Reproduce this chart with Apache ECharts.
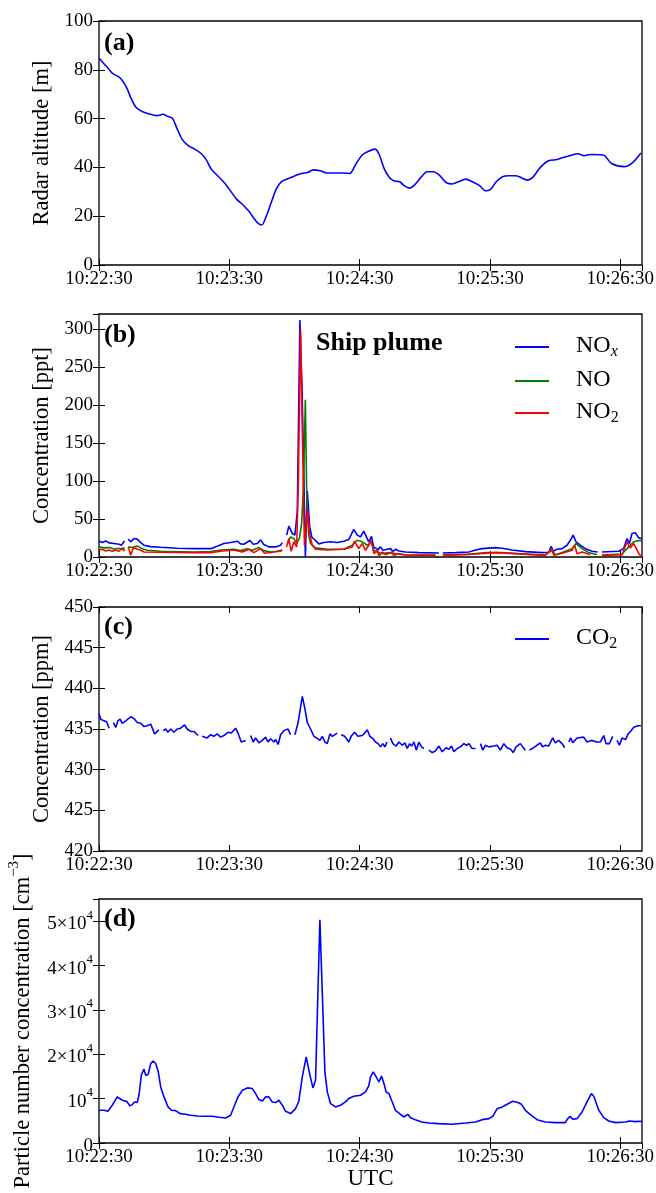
<!DOCTYPE html>
<html><head><meta charset="utf-8">
<script src="https://cdn.jsdelivr.net/npm/echarts@6/dist/echarts.min.js"></script>
<style>html,body{margin:0;padding:0;background:#fff}#c{width:656px;height:1193px}</style>
</head><body><div id="c"></div>
<script>
// ---- data: [seconds after 10:22:30, value] ----
const timeTicks = ['10:22:30','10:23:30','10:24:30','10:25:30','10:26:30'];
const pncTickMant = ['0','10','2×10','3×10','4×10','5×10'];

const altitude = [[0,84.8],[4.4,80.4],[6.4,78.4],[9.3,77],[11.2,75],[13.1,72],[14.5,68.8],[17,64.7],[19.9,62.9],[22.8,62],[26.6,61.2],[29.5,61.8],[31.4,61],[33.8,60.1],[35.7,56.4],[38.2,51.6],[41.1,48.9],[44,47.5],[46.9,45.8],[49.2,43.4],[51.7,39.3],[54.6,36.6],[56.9,34.5],[59.4,31.8],[63.3,27],[66.2,24.7],[69.1,21.9],[71,19.5],[72.9,17.4],[74.9,16.4],[76.8,19.5],[79.3,25.6],[81.6,31.1],[83.9,34.1],[87.4,35.5],[90.3,36.6],[93.2,37.5],[96.1,37.9],[98.6,39],[101.9,38.6],[104.8,37.7],[108.6,37.7],[112.5,37.7],[115.4,37.5],[118.3,41.4],[121.2,45.1],[124.1,46.6],[127,47.5],[128.9,45.5],[131.4,39.3],[133.7,35.9],[136,34.4],[138.5,34.1],[140.5,32.5],[143,31.5],[145.7,33.2],[148.2,35.9],[151.1,38.2],[154,38.2],[156.9,36.6],[159.8,33.8],[162.6,33.2],[165.5,34.1],[168.8,35.2],[171.9,34.1],[175.2,32.5],[178.1,30.4],[180.4,31.1],[182.9,34.1],[185.8,36.2],[188.7,36.6],[192,36.6],[195.1,35.5],[197.4,34.8],[199.7,35.9],[203.2,40],[207,42.7],[210.9,43.2],[213.8,44.1],[216.7,44.8],[220.5,45.6],[223.4,44.8],[226.3,45.3],[232.1,45.1],[236,41.6],[241.8,40.3],[245.7,42],[249.5,45.9]];

const nox = [[0,21],[1.5,19],[3.1,21],[4.6,18.6],[6.9,17.7],[9.2,16.8],[10.3,15.5],[11.8,21],[12.5,null],[13.5,23.5],[14.6,20],[16.1,24.3],[17.6,23.5],[19.2,19],[20.7,15.5],[23.8,13.7],[28.4,12.8],[36,11.5],[43.7,11],[51.4,11],[54.4,14.2],[57.5,17.7],[60.6,19],[63.6,20.8],[65.2,17.3],[66.7,16.8],[69.5,21.7],[71,16.8],[72.9,17.7],[74.4,22.6],[75.9,16.4],[78.2,13.3],[81.3,13.3],[83.6,15.5],[84.4,19],[85.4,null],[86.4,28.8],[87.4,40.7],[89,31],[90.2,28.8],[91.3,60],[92.5,312],[93.5,220],[94.3,110],[95,0],[95.9,87],[97,40],[98,26],[99,23.5],[101.2,17.3],[103.5,19],[106.6,20],[109.6,19],[112.7,20.8],[115,23],[117.3,36.3],[118.9,28.8],[120.4,26.5],[121.9,34],[123.5,24.3],[124.2,20],[125.5,27],[126.4,13.3],[127.3,15.5],[128.5,9.7],[129.6,13.3],[130.7,8.8],[132.7,10.2],[134.2,11],[135.3,7.5],[136.5,10.2],[138.1,8],[141.1,6.6],[147.3,5.8],[156.5,5.3],[157.5,null],[158.3,5.3],[164.2,5.8],[170.3,6.6],[173.4,9.3],[176.4,11],[182.6,12.4],[185.6,11.5],[190.2,9.3],[196.4,7.1],[204,5.8],[207.1,6.2],[208.2,14.2],[209.1,7.5],[210.9,10.2],[213.2,11],[215.5,15.5],[217,22],[218.3,28.8],[219.6,20],[221.6,15.5],[223.9,11],[227,7.5],[229.6,6.6],[230.5,null],[231.6,6.6],[239.2,7.5],[241.5,11],[243.1,24.3],[244.2,17.7],[245.4,31],[246.9,31.9],[248.5,25.2],[250,24]];

const no = [[0,13.3],[2.3,12],[4.6,12.4],[6.9,10.6],[9.2,11.5],[10.7,9.7],[11.8,12.4],[12.5,null],[13.5,13.3],[15.3,12.4],[17.6,14.6],[19.9,11],[22.2,8.8],[28.4,7.5],[43.7,6.6],[51.4,7.1],[56,9.3],[62.1,10.2],[65.2,8.4],[68.2,11],[70.6,8.8],[73.6,12.4],[75.9,8.4],[79,6.6],[83.6,7.5],[84.4,9],[85.4,null],[86.7,17.7],[88.2,26.5],[89.7,24.3],[91,17.7],[92.3,25],[93.3,45],[94.1,90],[95,207],[95.7,70],[96.5,30],[97.4,17.7],[99.7,12],[105.1,10.2],[112.7,10.2],[116.6,15.5],[118.9,22],[121.2,20],[123.5,15.5],[125.3,20],[126.6,8.8],[128.1,6.6],[130.4,4.4],[133.4,5.8],[136.5,4.4],[141.1,3],[154.9,2.7],[157.5,null],[158.3,2.7],[170.3,3.5],[178,5.8],[185.6,5.8],[193.3,4.4],[205.5,2.7],[208.6,8.8],[210.1,3],[213.2,5.8],[217.8,11],[219.6,17.7],[222.4,11],[225.5,5.8],[229.3,3],[230.5,null],[231.6,2.7],[240.8,4],[243.9,13.3],[246.2,20],[248.5,21.7],[250,21]];

const no2 = [[0,8.8],[1.5,10.2],[3.1,8],[4.6,9.3],[6.1,7.5],[7.7,9.3],[9.2,7.5],[10.7,12],[11.8,7.5],[12.5,null],[13.5,13.3],[14.6,2.2],[15.8,12],[17.3,11],[19.2,8.8],[20.7,6.6],[28.4,6.2],[43.7,5.8],[51.4,5.8],[56,7.5],[62.1,9.3],[65.9,6.6],[69,10.2],[71.3,5.8],[74.4,11],[76.2,4.9],[80.5,6.6],[84.4,9.3],[85.4,null],[86.4,13.3],[87.4,24.3],[88.5,7.5],[89.7,20],[91,13.3],[91.8,100],[92.8,300],[93.6,165],[94.6,15],[96,62],[97,30],[98.2,15.5],[99.7,10.2],[105.1,9.3],[112.7,10.2],[116.6,13.3],[117.6,20.8],[119.6,11],[121.2,17.7],[122.7,8.8],[124.2,15.5],[125.3,22],[126.6,4.4],[128.1,8.8],[128.9,1.3],[130.4,6.6],[131.9,3],[134.9,6.6],[135.7,1.3],[137.3,4.4],[141.1,2.7],[154.9,2.2],[157.5,null],[158.3,2.2],[173.4,4],[182.6,5.8],[193.3,4],[205.5,2.2],[208.3,10.2],[209.4,2.2],[213.2,4.9],[217.8,8.8],[219,15.5],[220.1,4.4],[222.4,6.6],[226.3,3],[230.5,null],[231.6,2.2],[240.8,3],[243.1,20],[244.6,12],[246.2,17.7],[248.8,3],[250,2]];

const co2 = [[0,436.9],[0.8,436.2],[2.3,436.0],[3.5,435.9],[4.7,435.1],[5.6,null],[6.6,435.8],[7.7,435.2],[8.7,436.0],[9.7,436.2],[10.7,435.7],[12.3,436.0],[14.6,436.5],[16.1,436.3],[17.6,435.8],[19.2,435.7],[20.7,435.3],[22.2,435.4],[23.8,435.6],[25.6,434.4],[27.6,434.9],[28.6,null],[29.6,434.8],[30.7,435.0],[31.7,434.6],[33,435.0],[34.5,434.6],[36,435.0],[37.6,435.1],[39.4,435.5],[40.6,435.0],[42.2,434.7],[43.7,434.7],[45.6,434.2],[46.5,null],[47.5,434.1],[49.8,433.9],[51.4,434.3],[52.9,434.1],[54.4,434.4],[56,434.0],[57.5,434.2],[59.4,434.6],[60.9,434.5],[62.9,435.1],[64,434.5],[65.5,433.4],[67.5,433.6],[68.7,null],[69.8,434.2],[71,433.4],[72.1,433.9],[73.6,433.3],[75.2,433.6],[76.7,434.0],[77.8,433.4],[79,433.8],[80.5,433.4],[81.3,433.7],[82.5,433.1],[83.6,434.3],[85.1,434.8],[87,435.0],[88.2,434.3],[89.2,null],[90.2,434.3],[91.6,435.7],[93.6,439.0],[94.8,437.5],[95.9,435.8],[97.4,435.0],[99,434.1],[100.2,433.9],[101.7,433.6],[102.8,434.1],[104,433.4],[105.1,433.2],[106.3,434.4],[107.4,434.1],[109.7,434.5],[110.6,null],[111.5,434.3],[113.1,434.1],[115,433.4],[116.1,434.1],[117.7,434.6],[119.2,434.1],[121.2,434.2],[122.3,434.5],[123.5,434.9],[124.7,434.1],[126.2,433.8],[127.3,433.4],[128.5,433.2],[129.6,432.8],[130.7,433.2],[131.6,432.8],[132.6,433.4],[133.4,null],[134.2,433.9],[135.3,433.2],[136.8,432.9],[138.1,433.4],[139.6,433.0],[140.8,433.3],[141.9,432.6],[143,433.2],[143.9,432.9],[145,433.4],[146.1,432.4],[147.3,433.4],[148.5,432.8],[149.6,432.6],[150.7,null],[151.9,432.4],[153.4,432.1],[154.9,432.3],[156.5,432.9],[158,432.2],[159.8,432.7],[161.1,432.5],[162.3,432.9],[163.4,432.2],[164.9,432.6],[166.4,432.8],[168,433.2],[169.2,433.0],[170.3,433.2],[171.8,432.6],[173.4,432.6],[174.5,null],[175.6,433.2],[176.7,432.4],[177.9,433.0],[179.5,432.8],[181.8,432.9],[183.3,433.0],[184.8,432.4],[186.4,433.2],[187.9,432.7],[189.5,432.5],[190.7,432.1],[192,432.8],[194,433.2],[195.1,432.8],[196.3,432.4],[197.2,null],[198.1,432.4],[200.1,432.7],[201.6,433.0],[203.2,433.3],[204.2,432.8],[205.5,433.0],[207,432.9],[208.9,433.9],[210.1,433.3],[211.6,433.6],[213.2,433.2],[214.4,432.7],[215.3,null],[216.3,433.4],[217.2,433.9],[218.1,433.3],[220.1,433.9],[223.2,434.0],[224.7,433.4],[226.7,433.6],[229.3,433.4],[230.8,433.4],[232.4,434.2],[233.4,433.2],[235,433.2],[236.5,434.1],[237.5,null],[238.5,433.6],[239.6,433.0],[240.8,433.9],[242.4,433.7],[243.6,434.4],[244.7,434.7],[246.2,435.2],[248.2,435.4],[249.5,435.4]];

const pnc = [[0,7380],[2.3,7380],[4.1,7150],[6.1,8510],[8.4,10390],[10,9860],[11.5,9490],[12.7,9410],[14.3,8360],[15.3,8660],[16.4,9260],[17.6,9110],[18.4,10770],[19.5,15290],[20.7,16640],[21.5,15290],[22.6,15440],[23.8,17920],[24.9,18450],[26.1,17920],[27.3,16040],[28.4,12650],[29.9,10390],[31.8,8130],[33.3,7380],[35.3,7300],[37.3,6630],[39.9,6480],[42.2,6250],[45.3,6100],[48.3,6020],[52.2,6020],[55.2,5800],[58.3,5650],[60.6,6250],[62.1,8130],[64,10390],[66,11900],[68.3,12420],[70.6,12270],[72.1,11140],[73.6,9790],[75.2,9490],[76.7,10390],[78.2,10390],[79.8,9260],[81.3,9110],[82.8,9640],[84.4,8510],[85.9,7150],[88.2,6630],[90.5,7760],[92,9410],[93.6,14910],[95.4,19430],[97.1,15290],[98.5,12420],[99.7,14160],[101.7,50300],[104,16040],[105.1,11520],[106.6,8890],[108.9,8130],[111.2,8510],[113.5,9260],[115,10020],[117.3,10540],[120.4,10770],[122.7,11520],[124.2,12880],[125,14890],[126.3,16020],[127.6,14890],[128.9,13760],[130.1,15110],[131.2,13380],[132.2,11500],[133.5,11130],[135,9250],[136.5,7370],[138.4,6620],[140.4,5860],[142.2,6470],[143.4,5710],[145.7,5260],[148.5,4740],[151.9,4510],[156.4,4360],[162.6,4210],[168.8,4510],[173.4,4740],[176.4,5260],[179.6,5490],[181.3,6020],[183.3,7740],[185.6,8120],[187.9,8720],[190.5,9400],[192.5,9170],[194.5,8720],[196.3,7370],[198.6,6390],[201.7,5260],[205.5,4740],[210.1,4590],[214.7,4590],[215.8,5490],[217,6020],[218.1,5340],[220.1,5490],[222.4,6990],[224.7,9250],[226.7,11130],[227.8,10530],[230.1,7370],[232.4,5710],[234.7,4960],[237.8,4590],[242.4,4740],[244.2,4960],[247,4810],[248.5,4890],[250,4850]];

// ---- chart ----
const F = 'Liberation Serif';
const BLK = '#000';
const gridDefs = [
  {top:21, height:244},
  {top:314, height:243},
  {top:607, height:244},
  {top:899, height:244}
];
const yDefs = [
  {min:0, max:100, interval:20, name:'Radar altitude [m]', showMax:true},
  {min:0, max:320, interval:50, name:'Concentration [ppt]', showMax:false},
  {min:420, max:450, interval:5, name:'Concentration [ppm]', showMax:true},
  {min:0, max:55000, interval:10000, name:'{m|Particle number concentration [cm}{s|−3}{m|]}', showMax:false}
];
const tick = {show:true, inside:true, length:6, lineStyle:{color:BLK, width:1}};
const fmtTime = v => { const i = Math.round(v/60); return (Math.abs(v - i*60) < 0.01 && timeTicks[i]) ? timeTicks[i] : ''; };
const fmtPnc = v => { const i = Math.round(v/10000); return i === 0 ? '{m|0}' : '{m|' + pncTickMant[i] + '}{s|4}'; };

const grid = gridDefs.map(g => ({left:99, width:543, top:g.top, height:g.height, show:true, borderColor:BLK, borderWidth:1.3,
  backgroundColor:'transparent', containLabel:false, outerBoundsMode:'none'}));
const xAxis = [], yAxis = [];
for (let i = 0; i < 4; i++) {
  xAxis.push({type:'value', gridIndex:i, position:'bottom', min:0, max:250, interval:60,
    axisLine:{show:false}, axisTick:tick, splitLine:{show:false},
    axisLabel:{formatter:fmtTime, fontFamily:F, fontSize:19, color:BLK, margin:5, showMaxLabel:false},
    name: i === 3 ? 'UTC' : '', nameLocation:'middle', nameGap:20,
    nameTextStyle:{fontFamily:F, fontSize:23, color:BLK}});
}
for (let i = 0; i < 4; i++) {
  xAxis.push({type:'value', gridIndex:i, position:'top', min:0, max:250, interval:60,
    axisLine:{show:false}, axisTick:tick, splitLine:{show:false}, axisLabel:{show:false}});
}
for (let i = 0; i < 4; i++) {
  const d = yDefs[i];
  const lab = {fontFamily:F, fontSize:19, color:BLK, margin:6, showMaxLabel:d.showMax};
  if (i === 3) {
    lab.formatter = fmtPnc;
    lab.rich = {m:{fontFamily:F, fontSize:19, color:BLK, verticalAlign:'bottom', lineHeight:25},
                s:{fontFamily:F, fontSize:13, color:BLK, verticalAlign:'top'}};
  }
  const nts = {fontFamily:F, fontSize:22.5, color:BLK};
  if (i === 3) {
    nts.rich = {m:{fontFamily:F, fontSize:22.5, color:BLK, verticalAlign:'bottom', lineHeight:28},
                s:{fontFamily:F, fontSize:15, color:BLK, verticalAlign:'top'}};
  }
  yAxis.push({type:'value', gridIndex:i, position:'left', min:d.min, max:d.max, interval:d.interval,
    axisLine:{show:false}, axisTick:tick, splitLine:{show:false}, axisLabel:lab,
    name:d.name, nameLocation:'middle', nameRotate:90, nameGap: i === 3 ? 64 : 42, nameTextStyle:nts});
}
for (let i = 0; i < 4; i++) {
  const d = yDefs[i];
  yAxis.push({type:'value', gridIndex:i, position:'right', min:d.min, max:d.max, interval:d.interval,
    axisLine:{show:false}, axisTick:tick, splitLine:{show:false}, axisLabel:{show:false}});
}

const lineS = (name, data, idx, color, smooth) => ({type:'line', name, data, xAxisIndex:idx, yAxisIndex:idx,
  showSymbol:false, symbol:'none', smooth: smooth || false, connectNulls:false, color,
  lineStyle:{color, width:1.6}, animation:false, silent:true});

const legendNames = {NOx:'{g| }{m|NO}{i|x}', NO:'{g| }{m|NO}', NO2:'{g| }{m|NO}{s|2}', CO2:'{g| }{m|CO}{s|2}'};
const legRich = {
  g:{width:22},
  m:{fontFamily:F, fontSize:24, color:BLK, verticalAlign:'top', lineHeight:26},
  s:{fontFamily:F, fontSize:16, color:BLK, verticalAlign:'bottom'},
  i:{fontFamily:F, fontSize:16, color:BLK, fontStyle:'italic', verticalAlign:'bottom'}
};
const legBase = {orient:'vertical', left:515, padding:0, itemGap:8, itemWidth:34, itemHeight:2, icon:'rect',
  selectedMode:false, formatter: n => legendNames[n], textStyle:{fontFamily:F, color:BLK, rich:legRich}};

const titleStyle = {fontFamily:F, fontWeight:'bold', fontSize:26, color:BLK};
const option = {
  animation:false,
  backgroundColor:'#fff',
  title:[
    {text:'(a)', left:104, top:30, padding:0, textStyle:titleStyle},
    {text:'(b)', left:104, top:322, padding:0, textStyle:titleStyle},
    {text:'(c)', left:104, top:614, padding:0, textStyle:titleStyle},
    {text:'(d)', left:104, top:906, padding:0, textStyle:titleStyle},
    {text:'Ship plume', left:316, top:330, padding:0, textStyle:titleStyle}
  ],
  legend:[
    Object.assign({}, legBase, {top:334, data:['NOx','NO','NO2']}),
    Object.assign({}, legBase, {top:626, data:['CO2']})
  ],
  grid, xAxis, yAxis,
  series:[
    lineS('Altitude', altitude, 0, '#0000ff', 0.3),
    lineS('NOx', nox, 1, '#0000ff'),
    lineS('NO', no, 1, '#008000'),
    lineS('NO2', no2, 1, '#ff0000'),
    lineS('CO2', co2, 2, '#0000ff'),
    lineS('PNC', pnc, 3, '#0000ff')
  ]
};
const chart = echarts.init(document.getElementById('c'), null, {renderer:'canvas'});
chart.setOption(option);
</script></body></html>
